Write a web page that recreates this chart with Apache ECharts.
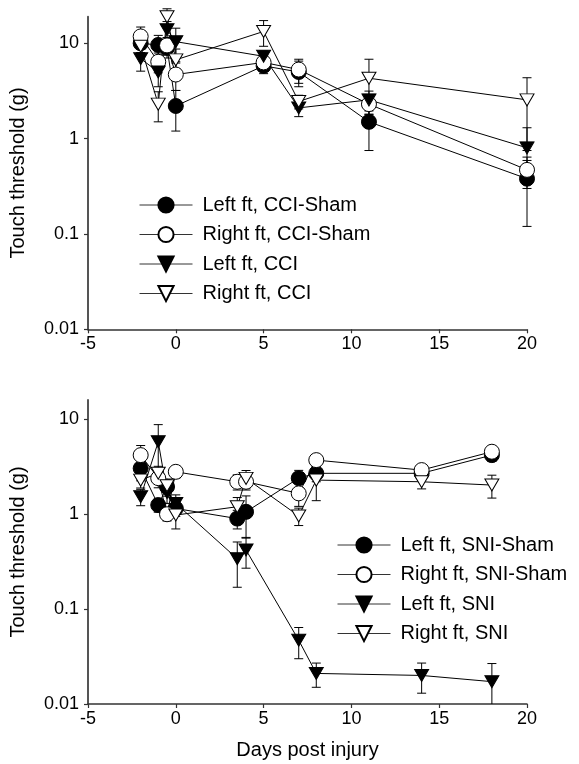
<!DOCTYPE html>
<html>
<head>
<meta charset="utf-8">
<script src="https://cdn.jsdelivr.net/npm/echarts@6/dist/echarts.min.js"></script>
<style>
html,body{margin:0;padding:0;background:#fff}
#chart{width:579px;height:764px}
</style>
</head>
<body>
<div id="chart"></div>
<script>
// top panel: CCI groups
var cciDays = [-2, -1, -0.5, 0, 5, 7, 11, 20];
var leftCciSham = [10, 9.6, 9.0, 2.2, 5.8, 5.0, 1.5, 0.38];
var leftCciShamSem = [2, 2.5, 2, 1.0, 1.0, 1.5, 0.75, 0.26];
var rightCciSham = [11.8, 6.4, 9.5, 4.7, 6.3, 5.3, 2.3, 0.47];
var rightCciShamSem = [3, 1.5, 2, 1.5, 1.2, 1.5, 0.5, 0.12];
var leftCci = [6.9, 5.0, 13.9, 10.4, 7.3, 2.1, 2.55, 0.8];
var leftCciSem = [1.8, 1.5, 3, 4, 1.0, 0.4, 0.6, 0.5];
var rightCci = [9.3, 2.3, 19, 6.7, 13.3, 2.45, 4.3, 2.55];
var rightCciSem = [2, 0.8, 4, 2, 4, 0.4, 2.5, 1.8];

// bottom panel: SNI groups
var sniDays = [-2, -1, -0.5, 0, 3.5, 4, 7, 8, 14, 18];
var leftSniSham = [3.05, 1.25, 1.95, 1.15, 0.9, 1.06, 2.4, 2.7, 2.7, 4.2];
var leftSniShamSem = [0.8, 0.2, 0.4, 0.2, 0.2, 0.5, 0.5, 0.5, 0.4, 0.6];
var rightSniSham = [4.2, 2.4, 1.0, 2.8, 2.2, 2.2, 1.66, 3.72, 2.92, 4.56];
var rightSniShamSem = [1.1, 0.5, 0.15, 0.4, 0.4, 0.4, 0.45, 0.5, 0.4, 0.5];
var leftSni = [1.53, 5.8, 1.7, 1.3, 0.34, 0.42, 0.047, 0.021, 0.020, 0.0172];
var leftSniSem = [0.3, 3.0, 0.4, 0.3, 0.17, 0.15, 0.017, 0.006, 0.007, 0.0095];
var rightSni = [2.29, 2.7, 2.0, 0.98, 1.2, 2.39, 0.96, 2.29, 2.2, 2.03];
var rightSniSem = [0.4, 0.5, 0.3, 0.28, 0.3, 0.5, 0.2, 0.9, 0.35, 0.55];

var yTicks = [0.01, 0.1, 1, 10];

var FONT = '"Liberation Sans", Arial, sans-serif';
var downTri = 'path://M0,0 L14,0 L7,12 Z';
var yMin = 0.01;

var chart = echarts.init(document.getElementById('chart'), null, {renderer: 'canvas'});

function pairs(xs, ys) {
    return xs.map(function (x, i) { return [x, ys[i]]; });
}
function errRows(xs, ys, sem) {
    return xs.map(function (x, i) {
        var lo = ys[i] - sem[i];
        var clipped = lo < yMin ? 1 : 0;
        return [x, clipped ? yMin : lo, ys[i] + sem[i], clipped];
    });
}
function renderErr(params, api) {
    var x = api.value(0);
    var lo = api.coord([x, api.value(1)]);
    var hi = api.coord([x, api.value(2)]);
    var cap = 4.5;
    var style = {stroke: '#000', lineWidth: 1, fill: null};
    var kids = [
        {type: 'line', shape: {x1: hi[0], y1: hi[1], x2: lo[0], y2: lo[1]}, style: style},
        {type: 'line', shape: {x1: hi[0] - cap, y1: hi[1], x2: hi[0] + cap, y2: hi[1]}, style: style}
    ];
    if (!api.value(3)) {
        kids.push({type: 'line', shape: {x1: lo[0] - cap, y1: lo[1], x2: lo[0] + cap, y2: lo[1]}, style: style});
    }
    return {type: 'group', children: kids};
}

function lineSerie(name, idx, xs, ys, filled, tri) {
    return {
        type: 'line', name: name,
        xAxisIndex: idx, yAxisIndex: idx,
        data: pairs(xs, ys),
        symbol: tri ? downTri : 'circle',
        symbolSize: tri ? [14, 12] : 15,
        clip: false,
        z: 3,
        lineStyle: {color: '#000', width: 1},
        itemStyle: {color: filled ? '#000' : '#fff', borderColor: '#000', borderWidth: 1, opacity: 1},
        emphasis: {disabled: true}
    };
}
function errSerie(idx, xs, ys, sem) {
    return {
        type: 'custom', name: 'err',
        xAxisIndex: idx, yAxisIndex: idx,
        renderItem: renderErr,
        encode: {x: 0, y: [1, 2]},
        data: errRows(xs, ys, sem),
        clip: false,
        z: 2,
        silent: true
    };
}

function xAxisOpt(idx, named) {
    return {
        type: 'value', gridIndex: idx,
        min: -5, max: 20, interval: 5,
        name: named ? 'Days post injury' : '',
        nameLocation: 'middle', nameGap: 36,
        nameTextStyle: {fontSize: 20, color: '#000', fontFamily: FONT},
        axisLine: {onZero: false, lineStyle: {color: '#333', width: 1.5}},
        axisTick: {inside: false, length: 4, lineStyle: {color: '#333', width: 1.2}},
        axisLabel: {fontSize: 18, color: '#000', fontFamily: FONT, margin: 6},
        splitLine: {show: false}
    };
}
function yAxisOpt(idx, max) {
    return {
        type: 'log', logBase: 10, gridIndex: idx,
        min: 0.01, max: max,
        name: 'Touch threshold (g)',
        nameLocation: 'middle', nameGap: 60, nameRotate: 90,
        nameTextStyle: {fontSize: 20, color: '#000', fontFamily: FONT},
        axisLine: {onZero: false, lineStyle: {color: '#555', width: 2}},
        axisTick: {inside: false, length: 4, customValues: yTicks, lineStyle: {color: '#333', width: 1.2}},
        axisLabel: {
            fontSize: 18, color: '#000', fontFamily: FONT, margin: 9,
            customValues: yTicks,
            formatter: function (v) { return String(+(+v).toPrecision(3)); }
        },
        minorTick: {show: false},
        splitLine: {show: false}
    };
}
function legendOpt(names, left, top) {
    return {
        data: names, orient: 'vertical',
        left: left, top: top, padding: 0,
        itemWidth: 53, itemHeight: 19, itemGap: 9.5,
        selectedMode: false,
        lineStyle: {width: 1, color: '#333'},
        textStyle: {fontSize: 20, color: '#000', fontFamily: FONT, padding: [0, 0, 0, 5]}
    };
}

var option = {
    backgroundColor: '#fff',
    animation: false,
    grid: [
        {left: 87, top: 16.7, width: 440, height: 312.6},
        {left: 87, top: 400, width: 440, height: 304}
    ],
    xAxis: [xAxisOpt(0, false), xAxisOpt(1, true)],
    yAxis: [yAxisOpt(0, 19), yAxisOpt(1, 16)],
    legend: [
        legendOpt(['Left ft, CCI-Sham', 'Right ft, CCI-Sham', 'Left ft, CCI', 'Right ft, CCI'], 139, 195),
        legendOpt(['Left ft, SNI-Sham', 'Right ft, SNI-Sham', 'Left ft, SNI', 'Right ft, SNI'], 337, 535)
    ],
    series: [
        errSerie(0, cciDays, leftCciSham, leftCciShamSem),
        errSerie(0, cciDays, rightCciSham, rightCciShamSem),
        errSerie(0, cciDays, leftCci, leftCciSem),
        errSerie(0, cciDays, rightCci, rightCciSem),
        lineSerie('Left ft, CCI-Sham', 0, cciDays, leftCciSham, true, false),
        lineSerie('Right ft, CCI-Sham', 0, cciDays, rightCciSham, false, false),
        lineSerie('Left ft, CCI', 0, cciDays, leftCci, true, true),
        lineSerie('Right ft, CCI', 0, cciDays, rightCci, false, true),
        errSerie(1, sniDays, leftSniSham, leftSniShamSem),
        errSerie(1, sniDays, rightSniSham, rightSniShamSem),
        errSerie(1, sniDays, leftSni, leftSniSem),
        errSerie(1, sniDays, rightSni, rightSniSem),
        lineSerie('Left ft, SNI-Sham', 1, sniDays, leftSniSham, true, false),
        lineSerie('Right ft, SNI-Sham', 1, sniDays, rightSniSham, false, false),
        lineSerie('Left ft, SNI', 1, sniDays, leftSni, true, true),
        lineSerie('Right ft, SNI', 1, sniDays, rightSni, false, true)
    ]
};
chart.setOption(option);
</script>
</body>
</html>
